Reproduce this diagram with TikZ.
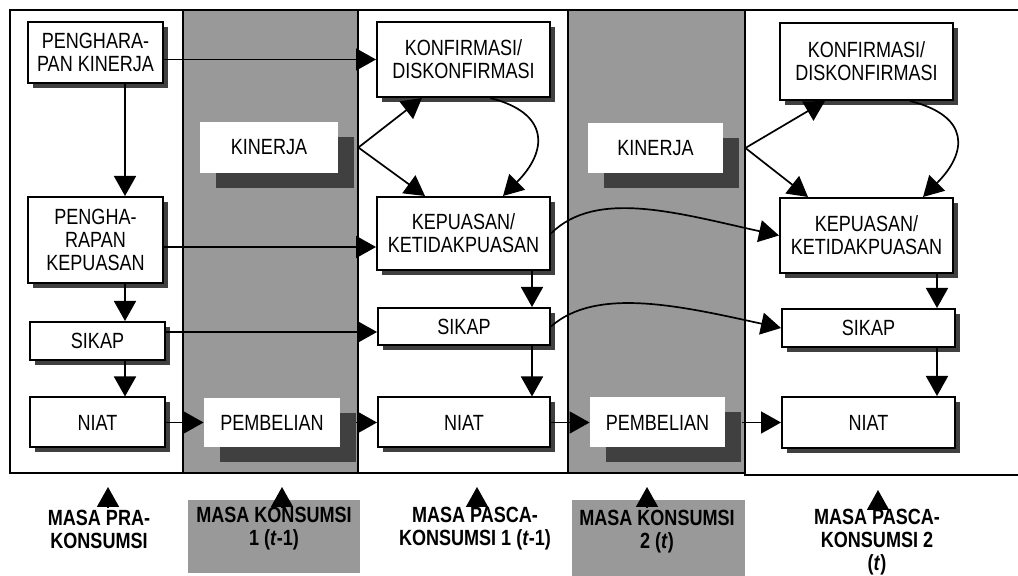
\documentclass[tikz,border=0pt]{standalone}
\usepackage{fontspec}
\setmainfont{Liberation Sans}[FakeStretch=0.82]
\usetikzlibrary{arrows.meta,shadows,calc}
\definecolor{panelgrey}{gray}{0.6}
\definecolor{shadowgrey}{gray}{0.25}

\begin{document}
\begin{tikzpicture}[x=0.5pt,y=-0.5pt,>={Triangle[length=10pt,width=11pt]},
  txt/.style={align=center,inner sep=1pt,font=\fontsize{11}{11.5}\selectfont},
  box/.style={txt,draw,line width=1pt,fill=white,
    drop shadow={shadow xshift=2.5pt,shadow yshift=-2.5pt,fill=shadowgrey,opacity=1}},
  act/.style={txt,fill=white,
    drop shadow={shadow xshift=8pt,shadow yshift=-7.5pt,fill=shadowgrey,opacity=1}},
  lbl/.style={align=center,inner sep=1pt,font=\bfseries\fontsize{11}{11.5}\selectfont},
  panel/.style={draw,line width=0.8pt},
  link/.style={->,line width=0.85pt}]
  \useasboundingbox (0,0) rectangle (1018,576);
  % time panels
  \draw[panel,fill=white] (10,10) rectangle (183,473);
  \draw[panel,fill=panelgrey] (183,10) rectangle (358,473);
  \draw[panel,fill=white] (358,10) rectangle (568,473);
  \draw[panel,fill=panelgrey] (568,10) rectangle (745,473);
  \draw[panel] (1018,10) -- (745,10) -- (745,475) -- (1018,475);
  \fill[panelgrey] (188,500) rectangle (360,573);
  \fill[panelgrey] (572,500) rectangle (745,576);

  % pra-konsumsi
  \node[box,minimum width=67.5pt,minimum height=30.5pt] (pk) at (95.5,52.5) {PENGHARA-\\PAN KINERJA};
  \node[box,minimum width=67.5pt,minimum height=43pt] (pkep) at (95.5,240) {PENGHA-\\RAPAN\\KEPUASAN};
  \node[box,minimum width=67.5pt,minimum height=19pt] (sikap0) at (97.5,341) {SIKAP};
  \node[box,minimum width=67.5pt,minimum height=25pt] (niat0) at (97.5,422.5) {NIAT};
  % konsumsi 1
  \node[act,minimum width=69pt,minimum height=25.5pt] (kin1) at (269,147.5) {KINERJA};
  \node[act,minimum width=68pt,minimum height=24.5pt] (pemb1) at (272,422.5) {PEMBELIAN};
  % pasca-konsumsi 1
  \node[box,minimum width=86.5pt,minimum height=37.5pt] (konf1) at (463.5,59.5) {KONFIRMASI/\\DISKONFIRMASI};
  \node[box,minimum width=86.5pt,minimum height=36.5pt] (kep1) at (463.5,233.5) {KEPUASAN/\\KETIDAKPUASAN};
  \node[box,minimum width=86pt,minimum height=18.5pt] (sikap1) at (464,326.5) {SIKAP};
  \node[box,minimum width=86pt,minimum height=25pt] (niat1) at (464,422.5) {NIAT};
  % konsumsi 2
  \node[act,minimum width=67.5pt,minimum height=25pt] (kin2) at (655.5,148) {KINERJA};
  \node[act,minimum width=67.5pt,minimum height=25pt] (pemb2) at (657.5,422.5) {PEMBELIAN};
  % pasca-konsumsi 2
  \node[box,minimum width=86.5pt,minimum height=38.5pt] (konf2) at (866.5,61.5) {KONFIRMASI/\\DISKONFIRMASI};
  \node[box,minimum width=86.5pt,minimum height=37.5pt] (kep2) at (866.5,235.5) {KEPUASAN/\\KETIDAKPUASAN};
  \node[box,minimum width=86.5pt,minimum height=19pt] (sikap2) at (868.5,328) {SIKAP};
  \node[box,minimum width=86.5pt,minimum height=25.5pt] (niat2) at (868.5,422.5) {NIAT};

  % links
  \draw[link] (pk.east |- konf1.west) -- (konf1.west);
  \draw[link] (pk.south -| 125,0) -- (pkep.north -| 125,0);
  \draw[link] (pkep.east |- 0,247) -- (kep1.west |- 0,247);
  \draw[link] (pkep.south -| 125,0) -- (sikap0.north -| 125,0);
  \draw[link] (sikap0.east |- 0,332) -- (sikap1.west |- 0,332);
  \draw[link] (sikap0.south -| 125,0) -- (niat0.north -| 125,0);
  \draw[link] (niat0.east) -- (pemb1.west);
  \draw[link] ([xshift=8pt]pemb1.east) -- (niat1.west);
  \draw[link] ([xshift=10pt]kin1.east) -- (konf1.south -| 422,0);
  \draw[link] ([xshift=10pt]kin1.east) -- (kep1.north -| 425,0);
  \draw[link] (konf1.south -| 490,0) .. controls +(60,15) and +(45,-45) .. (kep1.north -| 503,0);
  \draw[link] (kep1.south -| 532,0) -- (sikap1.north -| 532,0);
  \draw[link] (sikap1.south -| 532,0) -- (niat1.north -| 532,0);
  \draw[link] (kep1.east) .. controls +(45,-45) and +(-100,-22) .. (kep2.west);
  \draw[link] (sikap1.east) .. controls +(45,-40) and +(-100,-22) .. (sikap2.west);
  \draw[link] (niat1.east) -- (pemb2.west);
  \draw[link] ([xshift=8.5pt]pemb2.east) -- (niat2.west);
  \draw[link] ([xshift=11pt]kin2.east) -- (konf2.south -| 825,0);
  \draw[link] ([xshift=11pt]kin2.east) -- (kep2.north -| 808,0);
  \draw[link] (konf2.south -| 910,0) .. controls +(60,15) and +(45,-45) .. (kep2.north -| 923,0);
  \draw[link] (kep2.south -| 937,0) -- (sikap2.north -| 937,0);
  \draw[link] (sikap2.south -| 937,0) -- (niat2.north -| 937,0);

  % period labels
  \node[lbl] (lab0) at (99,529) {MASA PRA-\\KONSUMSI};
  \node[lbl] (lab1) at (274,529) {MASA KONSUMSI\\1 (\textit{t}-1)};
  \node[lbl] (lab2) at (475,529) {MASA PASCA-\\KONSUMSI 1 (\textit{t}-1)};
  \node[lbl] (lab3) at (657,532) {MASA KONSUMSI\\2 (\textit{t})};
  \node[lbl] (lab4) at (877,542) {MASA PASCA-\\KONSUMSI 2\\(\textit{t})};
  \foreach \x/\y/\n in {108/507/0,282/507/1,477/507/2,647/507/3,878/510/4}{
    \coordinate (b\n) at (\x,\y);
    \coordinate (t\n) at (\x,\y-20);
    \draw[link] (b\n) -- (t\n);
  }
\end{tikzpicture}
\end{document}
